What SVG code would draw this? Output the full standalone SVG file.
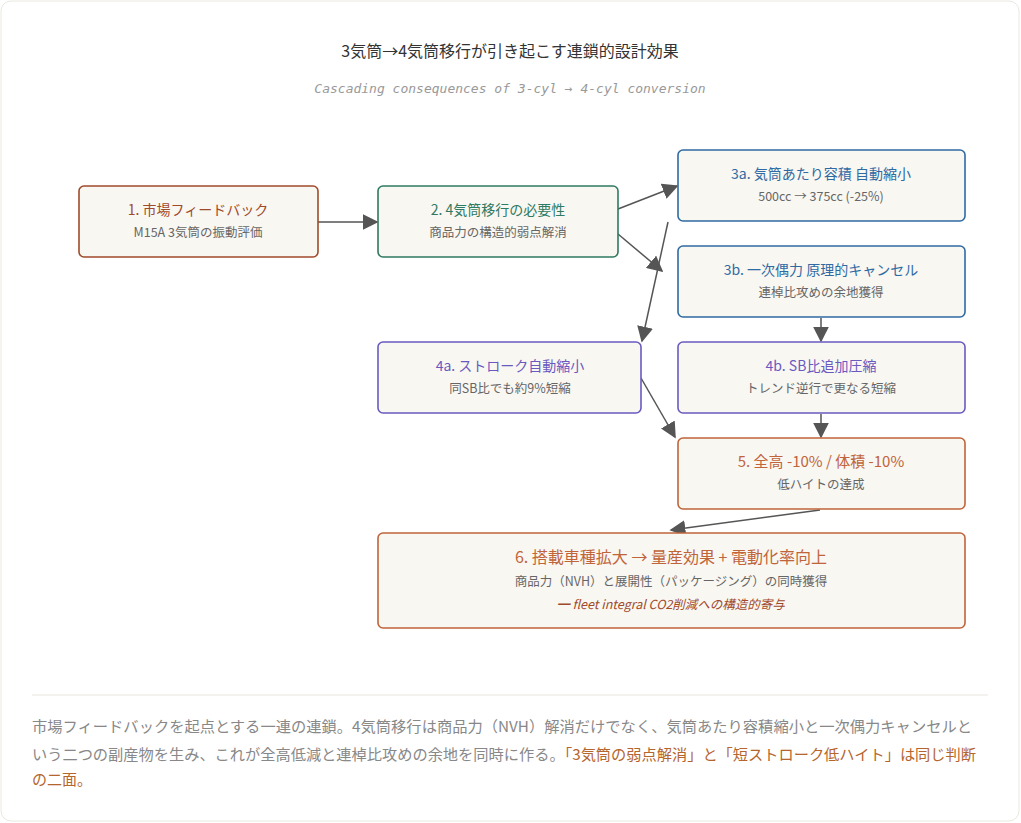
<svg xmlns="http://www.w3.org/2000/svg" width="1021" height="823" viewBox="0 0 1021 823">
<defs>
<marker id="ah2" viewBox="0 0 10 10" refX="9" refY="5" markerWidth="16" markerHeight="16" markerUnits="userSpaceOnUse" orient="auto"><path d="M0,0 L10,5 L0,10 z" fill="#555"/></marker>
</defs>
<style>
text{font-family:"Noto Sans CJK JP","Noto Sans",sans-serif;text-anchor:middle}
.box{fill:#f9f7f2;stroke-width:1.6}
.t{font-size:14px}
.s{font-size:12.5px;fill:#666}
.c{stroke:#555;stroke-width:1.5;fill:none;marker-end:url(#ah2)}
</style>
<rect x="1" y="1" width="1018" height="820" rx="10" fill="#fff" stroke="#ebe8e0"/>
<text x="510" y="57" font-size="16" fill="#333">3気筒→4気筒移行が引き起こす連鎖的設計効果</text>
<text x="510" y="93" font-size="13" fill="#999" font-style="italic" style="font-family:'DejaVu Sans Mono',monospace">Cascading consequences of 3-cyl → 4-cyl conversion</text>
<g id="connectors">
<line class="c" x1="318" y1="222" x2="377" y2="222"/>
<line class="c" x1="618" y1="209" x2="677" y2="186"/>
<line class="c" x1="618" y1="234" x2="662" y2="271"/>
<line class="c" x1="668" y1="222" x2="642" y2="341"/>
<line class="c" x1="821" y1="318" x2="821" y2="341"/>
<line class="c" x1="641" y1="378" x2="675" y2="437"/>
<line class="c" x1="821" y1="414" x2="821" y2="437"/>
<line class="c" x1="820" y1="510" x2="671" y2="530"/>
</g>
<g id="n1"><rect class="box" x="79" y="186" width="239" height="71" rx="5" stroke="#a04a2c"/>
<text class="t" x="198" y="215" fill="#a04a2c">1. 市場フィードバック</text><text class="s" x="198" y="237">M15A 3気筒の振動評価</text></g>
<g id="n2"><rect class="box" x="378" y="186" width="240" height="71" rx="5" stroke="#2e7a62"/>
<text class="t" x="498" y="215" fill="#2e7a62">2. 4気筒移行の必要性</text><text class="s" x="498" y="237">商品力の構造的弱点解消</text></g>
<g id="n3a"><rect class="box" x="678" y="150" width="287" height="71" rx="5" stroke="#2f6aa3"/>
<text class="t" x="821" y="179" fill="#2f6aa3">3a. 気筒あたり容積 自動縮小</text><text class="s" x="821" y="201">500cc → 375cc (-25%)</text></g>
<g id="n3b"><rect class="box" x="678" y="246" width="287" height="71" rx="5" stroke="#2f6aa3"/>
<text class="t" x="821" y="275" fill="#2f6aa3">3b. 一次偶力 原理的キャンセル</text><text class="s" x="821" y="297">連棹比攻めの余地獲得</text></g>
<g id="n4a"><rect class="box" x="378" y="342" width="263" height="71" rx="5" stroke="#6a5ac0"/>
<text class="t" x="510" y="371" fill="#6a5ac0">4a. ストローク自動縮小</text><text class="s" x="510" y="393">同SB比でも約9%短縮</text></g>
<g id="n4b"><rect class="box" x="678" y="342" width="287" height="71" rx="5" stroke="#6a5ac0"/>
<text class="t" x="821" y="371" fill="#6a5ac0">4b. SB比追加圧縮</text><text class="s" x="821" y="393">トレンド逆行で更なる短縮</text></g>
<g id="n5"><rect class="box" x="678" y="438" width="287" height="71" rx="5" stroke="#c0643a" stroke-width="2"/>
<text x="821" y="467" font-size="15" fill="#c0643a">5. 全高 -10% / 体積 -10%</text><text class="s" x="821" y="489">低ハイトの達成</text></g>
<g id="n6"><rect class="box" x="378" y="533" width="587" height="95" rx="5" stroke="#c0643a" stroke-width="2"/>
<text x="671" y="563" font-size="16" fill="#c0643a">6. 搭載車種拡大 → 量産効果 + 電動化率向上</text>
<text class="s" x="671" y="586">商品力（NVH）と展開性（パッケージング）の同時獲得</text>
<text x="671" y="609" font-size="12.5" fill="#a04a2c" font-style="italic">━ fleet integral CO2削減への構造的寄与</text></g>
<line x1="32" y1="695" x2="988" y2="695" stroke="#e8e5de"/>
<g font-size="15" fill="#888">
<text x="32" y="732" style="text-anchor:start" textLength="940" lengthAdjust="spacingAndGlyphs">市場フィードバックを起点とする一連の連鎖。4気筒移行は商品力（NVH）解消だけでなく、気筒あたり容積縮小と一次偶力キャンセルと</text>
<text x="32" y="760" style="text-anchor:start" textLength="944" lengthAdjust="spacingAndGlyphs">いう二つの副産物を生み、これが全高低減と連棹比攻めの余地を同時に作る。<tspan fill="#b5652e">「3気筒の弱点解消」と「短ストローク低ハイト」は同じ判断</tspan></text>
<text x="32" y="785" style="text-anchor:start" fill="#b5652e">の二面。</text>
</g>
</svg>
